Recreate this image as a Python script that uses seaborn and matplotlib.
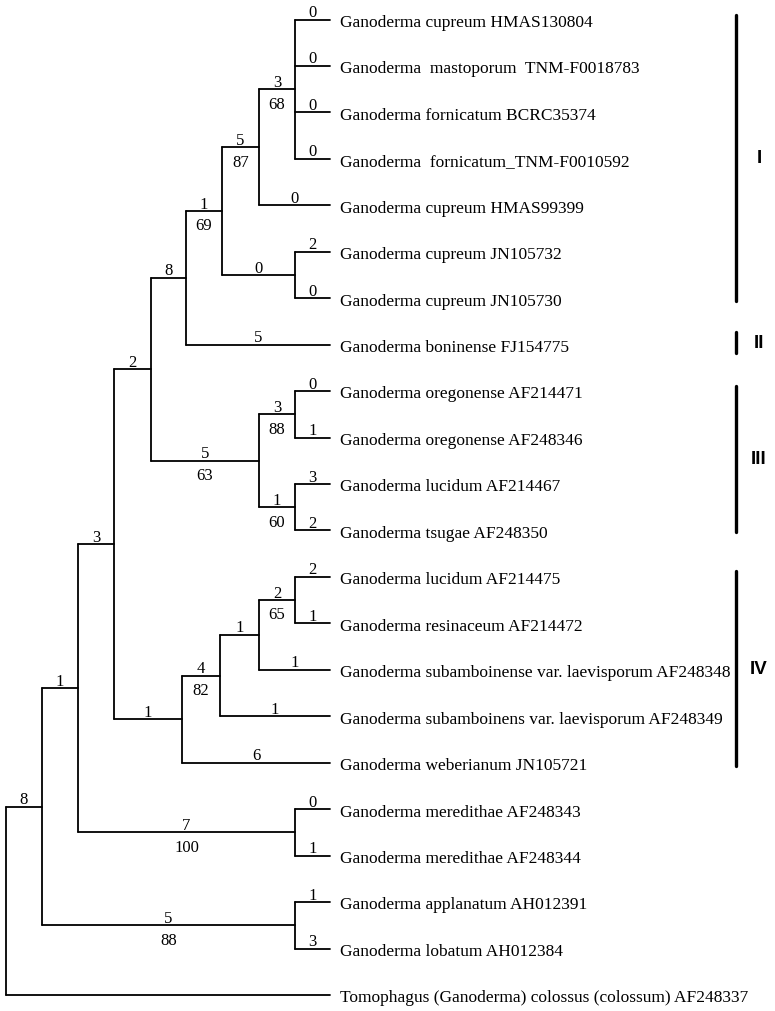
import matplotlib
matplotlib.use('Agg')
import matplotlib.pyplot as plt
import seaborn as sns
import pandas as pd

# terminal taxa, top to bottom
leaf_names = [
    'Ganoderma cupreum HMAS130804',
    'Ganoderma  mastoporum  TNM-F0018783',
    'Ganoderma fornicatum BCRC35374',
    'Ganoderma  fornicatum_TNM-F0010592',
    'Ganoderma cupreum HMAS99399',
    'Ganoderma cupreum JN105732',
    'Ganoderma cupreum JN105730',
    'Ganoderma boninense FJ154775',
    'Ganoderma oregonense AF214471',
    'Ganoderma oregonense AF248346',
    'Ganoderma lucidum AF214467',
    'Ganoderma tsugae AF248350',
    'Ganoderma lucidum AF214475',
    'Ganoderma resinaceum AF214472',
    'Ganoderma subamboinense var. laevisporum AF248348',
    'Ganoderma subamboinens var. laevisporum AF248349',
    'Ganoderma weberianum JN105721',
    'Ganoderma meredithae AF248343',
    'Ganoderma meredithae AF248344',
    'Ganoderma applanatum AH012391',
    'Ganoderma lobatum AH012384',
    'Tomophagus (Ganoderma) colossus (colossum) AF248337',
]
leaf_parents = ['n4a', 'n4a', 'n4a', 'n4a', 'nI2', 'nJN', 'nJN', 'nE',
                'nOre', 'nOre', 'nLuc', 'nLuc', 'nIV4', 'nIV4', 'nIV3',
                'nIV2', 'nIV', 'nMer', 'nMer', 'nApp', 'nApp', 'root']
leaf_changes = ['0', '0', '0', '0', '0', '2', '0', '5', '0', '1', '3', '2',
                '2', '1', '1', '1', '6', '0', '1', '1', '3', '']
leaf_x = 330

# internal nodes: parent, horizontal position, changes (above), bootstrap (below)
node_ids = ['root', 'nA', 'nB', 'nC', 'nD', 'nE', 'nI', 'nI2', 'n4a', 'nJN',
            'nIII', 'nOre', 'nLuc', 'nIV', 'nIV2', 'nIV3', 'nIV4', 'nMer', 'nApp']
node_parents = [None, 'root', 'nA', 'nB', 'nC', 'nD', 'nE', 'nI', 'nI2', 'nI',
                'nD', 'nIII', 'nIII', 'nC', 'nIV', 'nIV2', 'nIV3', 'nB', 'nA']
node_x = [6, 42, 78, 114, 151, 186, 222, 259, 295, 295,
          259, 295, 295, 182, 220, 259, 295, 295, 295]
node_changes = ['', '8', '1', '3', '2', '8', '1', '5', '3', '0',
                '5', '3', '1', '1', '4', '1', '2', '7', '5']
node_bootstrap = ['', '', '', '', '', '', '69', '87', '68', '',
                  '63', '88', '60', '', '82', '', '65', '100', '88']

# clade bars on the right (leaf-index extent)
group_names = ['I', 'II', 'III', 'IV']
group_top = [-0.10, 6.73, 7.89, 11.87]
group_bottom = [6.06, 7.18, 11.03, 16.07]
bar_x = 736
group_label_x = 759

# ---- layout ----
xpos = dict(zip(node_ids, node_x))
parent = dict(zip(node_ids, node_parents))
children = {n: [] for n in node_ids}
for i, p in enumerate(leaf_parents):
    children[p].append(('leaf', i))
for n, p in zip(node_ids, node_parents):
    if p is not None:
        children[p].append(('node', n))

ypos = {}


def node_y(n):
    if n in ypos:
        return ypos[n]
    ys = [c[1] if c[0] == 'leaf' else node_y(c[1]) for c in children[n]]
    ypos[n] = (min(ys) + max(ys)) / 2
    return ypos[n]


for n in node_ids:
    node_y(n)

segs = []
sid = 0
for n in node_ids:
    ys = [c[1] if c[0] == 'leaf' else ypos[c[1]] for c in children[n]]
    segs += [(sid, xpos[n], min(ys)), (sid, xpos[n], max(ys))]
    sid += 1
    if parent[n] is not None:
        segs += [(sid, xpos[parent[n]], ypos[n]), (sid, xpos[n], ypos[n])]
        sid += 1
for i, p in enumerate(leaf_parents):
    segs += [(sid, xpos[p], i), (sid, leaf_x, i)]
    sid += 1
df = pd.DataFrame(segs, columns=['seg', 'x', 'y'])

bars = []
for k, g in enumerate(group_names):
    bars += [(g, bar_x, group_top[k]), (g, bar_x, group_bottom[k])]
bar_df = pd.DataFrame(bars, columns=['group', 'x', 'y'])

# ---- drawing ----
sns.set_theme(style='white')
plt.rcParams['font.family'] = ['Liberation Serif', 'DejaVu Serif']
plt.rcParams['text.color'] = 'black'

fig = plt.figure(figsize=(7.75, 10.12), dpi=100)
ax = fig.add_axes([0, 0, 1, 1])

sns.lineplot(data=df, x='x', y='y', units='seg', estimator=None, sort=False,
             color='black', lw=1.3, ax=ax, legend=False)
sns.lineplot(data=bar_df, x='x', y='y', units='group', estimator=None,
             sort=False, color='black', lw=2.4, ax=ax, legend=False)

px = 46.45
ax.set_xlim(0, 775)
ax.set_ylim((1012 - 20.5) / px, -20.5 / px)
ax.set_axis_off()

num_fs = 12
for i, name in enumerate(leaf_names):
    ax.annotate(name, (leaf_x, i), xytext=(7, -4.6), textcoords='offset points',
                ha='left', va='baseline', fontsize=12.5)
    if leaf_changes[i]:
        mid = (xpos[leaf_parents[i]] + leaf_x) / 2
        ax.annotate(leaf_changes[i], (mid, i), xytext=(0, 2.5),
                    textcoords='offset points', ha='center', va='baseline',
                    fontsize=num_fs)

for n, p, c, b in zip(node_ids, node_parents, node_changes, node_bootstrap):
    if p is None:
        continue
    mid = (xpos[p] + xpos[n]) / 2
    if c:
        ax.annotate(c, (mid, ypos[n]), xytext=(0, 2.5), textcoords='offset points',
                    ha='center', va='baseline', fontsize=num_fs)
    if b:
        ax.annotate(b, (mid, ypos[n]), xytext=(0, -13.2), textcoords='offset points',
                    ha='center', va='baseline', fontsize=num_fs)

for k, g in enumerate(group_names):
    ax.text(group_label_x, (group_top[k] + group_bottom[k]) / 2, g,
            ha='center', va='center', fontsize=13.5, fontweight='bold',
            family=['Liberation Sans', 'DejaVu Sans'])

fig.savefig('out.png', dpi=100, facecolor='white')
